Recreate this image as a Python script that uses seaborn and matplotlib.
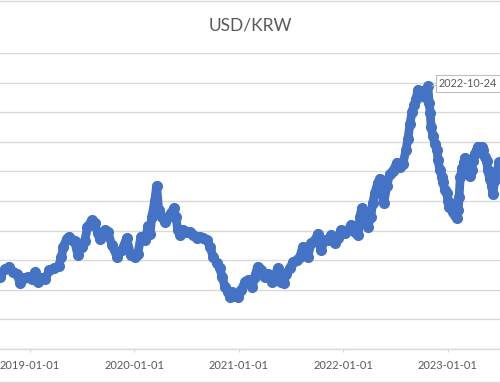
import numpy as np
import pandas as pd
import matplotlib
matplotlib.use("Agg")
import matplotlib.pyplot as plt
import matplotlib.dates as mdates
from matplotlib.lines import Line2D
import seaborn as sns

# ===================== DATA =====================
dates = [
    "2018-08-13", "2018-09-18", "2018-10-05", "2018-10-19", "2018-11-02", "2018-11-16",
    "2018-11-27", "2018-12-10", "2018-12-24", "2019-01-08", "2019-01-18", "2019-01-29",
    "2019-02-12", "2019-02-23", "2019-03-10", "2019-03-27", "2019-04-11", "2019-04-21",
    "2019-04-28", "2019-05-09", "2019-05-19", "2019-05-29", "2019-06-06", "2019-06-17",
    "2019-07-01", "2019-07-11", "2019-07-21", "2019-08-05", "2019-08-15", "2019-08-26",
    "2019-09-02", "2019-09-20", "2019-09-30", "2019-10-14", "2019-11-01", "2019-11-18",
    "2019-12-05", "2019-12-19", "2020-01-03", "2020-01-13", "2020-01-24", "2020-02-07",
    "2020-02-18", "2020-02-25", "2020-03-02", "2020-03-12", "2020-03-19", "2020-03-26",
    "2020-04-06", "2020-04-16", "2020-04-27", "2020-05-07", "2020-05-18", "2020-05-25",
    "2020-06-01", "2020-06-08", "2020-06-19", "2020-07-02", "2020-07-13", "2020-07-23",
    "2020-08-07", "2020-08-17", "2020-08-28", "2020-09-11", "2020-09-22", "2020-10-02",
    "2020-10-16", "2020-10-26", "2020-11-03", "2020-11-13", "2020-11-24", "2020-12-01",
    "2020-12-08", "2020-12-18", "2020-12-29", "2021-01-09", "2021-01-22", "2021-02-03",
    "2021-02-10", "2021-02-17", "2021-02-25", "2021-03-07", "2021-03-18", "2021-04-01",
    "2021-04-12", "2021-04-26", "2021-05-06", "2021-05-16", "2021-05-27", "2021-06-07",
    "2021-06-14", "2021-06-28", "2021-07-08", "2021-07-22", "2021-08-02", "2021-08-12",
    "2021-08-19", "2021-08-30", "2021-09-10", "2021-09-24", "2021-10-04", "2021-10-14",
    "2021-10-28", "2021-11-08", "2021-11-19", "2021-12-03", "2021-12-13", "2021-12-24",
    "2022-01-07", "2022-01-18", "2022-01-28", "2022-02-12", "2022-02-22", "2022-02-28",
    "2022-03-06", "2022-03-16", "2022-03-27", "2022-04-07", "2022-04-14", "2022-04-21",
    "2022-05-01", "2022-05-08", "2022-05-15", "2022-05-22", "2022-06-02", "2022-06-12",
    "2022-06-23", "2022-07-07", "2022-07-17", "2022-07-28", "2022-08-08", "2022-08-15",
    "2022-08-22", "2022-08-29", "2022-09-05", "2022-09-12", "2022-09-19", "2022-09-26",
    "2022-10-06", "2022-10-13", "2022-10-24", "2022-10-28", "2022-11-01", "2022-11-04",
    "2022-11-11", "2022-11-18", "2022-11-25", "2022-11-28", "2022-12-05", "2022-12-12",
    "2022-12-15", "2022-12-22", "2022-12-29", "2023-01-02", "2023-01-06", "2023-01-09",
    "2023-01-16", "2023-01-20", "2023-01-27", "2023-02-03", "2023-02-07", "2023-02-10",
    "2023-02-14", "2023-02-21", "2023-02-28", "2023-03-01", "2023-03-08", "2023-03-12",
    "2023-03-19", "2023-03-26", "2023-03-30", "2023-04-05", "2023-04-12", "2023-04-16",
    "2023-04-23", "2023-04-30", "2023-05-03", "2023-05-10", "2023-05-17", "2023-05-21",
    "2023-05-28", "2023-06-04", "2023-06-08", "2023-06-15", "2023-06-22", "2023-07-01",
    "2023-07-18",
]
usd_krw = [
    1125, 1122, 1135, 1139, 1130, 1127,
    1111, 1120, 1122, 1118, 1130, 1114,
    1120, 1119, 1133, 1137, 1140, 1156,
    1173, 1186, 1190, 1184, 1182, 1159,
    1173, 1182, 1206, 1218, 1212, 1196,
    1185, 1201, 1198, 1176, 1156, 1167,
    1187, 1159, 1156, 1161, 1190, 1184,
    1207, 1195, 1223, 1250, 1276, 1235,
    1223, 1215, 1223, 1229, 1238, 1223,
    1201, 1193, 1201, 1198, 1198, 1193,
    1187, 1190, 1187, 1184, 1173, 1156,
    1145, 1136, 1122, 1105, 1096, 1088,
    1096, 1090, 1088, 1099, 1114, 1116,
    1111, 1105, 1122, 1139, 1133, 1122,
    1127, 1114, 1122, 1136, 1114, 1111,
    1127, 1136, 1147, 1150, 1156, 1173,
    1167, 1156, 1179, 1184, 1195, 1167,
    1184, 1184, 1193, 1179, 1187, 1201,
    1196, 1201, 1210, 1198, 1193, 1223,
    1238, 1223, 1206, 1223, 1247, 1263,
    1280, 1288, 1265, 1246, 1275, 1295,
    1300, 1315, 1308, 1312, 1336, 1355,
    1380, 1400, 1412, 1422, 1438, 1432,
    1436, 1425, 1444, 1415, 1398, 1375,
    1359, 1347, 1336, 1319, 1302, 1291,
    1282, 1269, 1263, 1250, 1240, 1246,
    1237, 1232, 1226, 1222, 1235, 1257,
    1290, 1305, 1316, 1323, 1318, 1302,
    1292, 1302, 1318, 1330, 1336, 1342,
    1339, 1342, 1336, 1325, 1318, 1302,
    1288, 1275, 1262, 1285, 1300, 1316,
    1310,
]
label_date = "2022-10-24"
y_ticks = [1000, 1050, 1100, 1150, 1200, 1250, 1300, 1350, 1400, 1450, 1500]
year_ticks = ["2019-01-01", "2020-01-01", "2021-01-01", "2022-01-01", "2023-01-01"]

df = pd.DataFrame({"date": pd.to_datetime(dates), "rate": usd_krw})

# ===================== STYLE =====================
sns.set_theme(style="white")
plt.rcParams["font.family"] = ["Lato", "DejaVu Sans"]

blue = "#4472C4"
grid_c = "#d9d9d9"
text_c = "#595959"

fig = plt.figure(figsize=(5.0, 3.83), dpi=100)
ax = fig.add_axes([0.0, 34 / 383, 1.0, 296 / 383])

sns.lineplot(data=df, x="date", y="rate", ax=ax, color=blue,
             linewidth=6.3, marker="o", markersize=8,
             markeredgewidth=0, solid_capstyle="round",
             solid_joinstyle="round", zorder=3)

# axes range: left edge ~2018-09-18, right edge ~2023-07-03
start = pd.Timestamp("2019-01-01") - pd.Timedelta(days=105)
end = pd.Timestamp("2019-01-01") + pd.Timedelta(days=1644)
ax.set_xlim(start, end)
ax.set_ylim(y_ticks[0], y_ticks[-1])
ax.set_yticks(y_ticks)
ax.yaxis.grid(True, color=grid_c, linewidth=1.0)
ax.set_axisbelow(True)

ax.set_xticks(pd.to_datetime(year_ticks))
ax.xaxis.set_major_formatter(mdates.DateFormatter("%Y-%m-%d"))
ax.tick_params(axis="x", direction="out", length=2.5, width=0.8, color=grid_c,
               labelsize=8, labelcolor=text_c, pad=5.5, bottom=True)
ax.tick_params(axis="y", left=False, labelleft=False)

for side in ["top", "left", "right"]:
    ax.spines[side].set_visible(False)
ax.spines["bottom"].set_color(grid_c)
ax.spines["bottom"].set_linewidth(1.0)

ax.set_xlabel("")
ax.set_ylabel("")

# data label on the peak point
peak = df[df["date"] == pd.Timestamp(label_date)].iloc[0]
ax.annotate(label_date, xy=(peak["date"], peak["rate"]),
            xytext=(11, 3), textcoords="offset pixels",
            ha="left", va="center", fontsize=7.8, color=text_c,
            bbox=dict(boxstyle="square,pad=0.28", fc="white", ec="#bfbfbf", lw=0.8),
            arrowprops=dict(arrowstyle="-", color="#bfbfbf", lw=0.8,
                            shrinkA=0, shrinkB=3),
            zorder=5)

fig.text(0.5, 1 - 25.5 / 383, "USD/KRW", ha="center", va="center",
         fontsize=12.5, color=text_c)

# chart area border (top / bottom visible in the crop)
fig.add_artist(Line2D([0, 1], [1 - 0.5 / 383] * 2, transform=fig.transFigure,
                      color=grid_c, linewidth=1.0))
fig.add_artist(Line2D([0, 1], [1.5 / 383] * 2, transform=fig.transFigure,
                      color=grid_c, linewidth=1.0))

fig.savefig("out.png", dpi=100)
